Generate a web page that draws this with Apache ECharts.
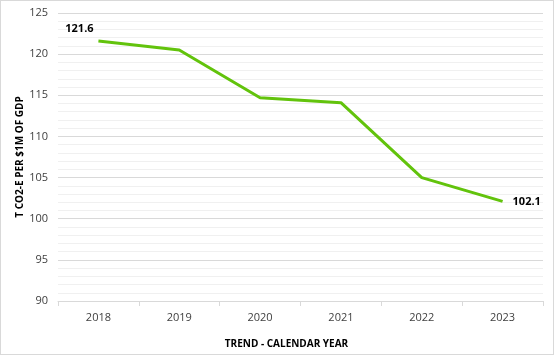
<!DOCTYPE html>
<html>
<head>
<meta charset="utf-8">
<script src="https://cdn.jsdelivr.net/npm/echarts@6/dist/echarts.min.js"></script>
<style>
html,body{margin:0;padding:0;background:#fff;}
#c{position:absolute;left:0;top:0;width:552px;height:353px;border:1px solid #d9d9d9;}
</style>
</head>
<body>
<div id="c"></div>
<script>
const categories = ['2018','2019','2020','2021','2022','2023'];
const values = [121.6, 120.5, 114.7, 114.1, 105.0, 102.1];
const yTicks = [90, 95, 100, 105, 110, 115, 120, 125];

const chart = echarts.init(document.getElementById('c'));
const last = values.length - 1;
chart.setOption({
  animation: false,
  grid: {left: 57, right: 10, top: 12, bottom: 51},
  xAxis: {
    type: 'category',
    data: categories,
    boundaryGap: true,
    name: 'TREND - CALENDAR YEAR',
    nameLocation: 'middle',
    nameGap: 38,
    nameTextStyle: {fontFamily: 'Open Sans', fontSize: 10, fontWeight: 'bold', color: '#000', padding: [0, 28, 0, 0]},
    axisLine: {lineStyle: {color: '#d9d9d9', width: 1}},
    axisTick: {show: true, length: 5, lineStyle: {color: '#d9d9d9'}},
    axisLabel: {fontFamily: 'Open Sans', fontSize: 11, color: '#404040', margin: 11},
    splitLine: {show: false}
  },
  yAxis: {
    type: 'value',
    min: yTicks[0],
    max: yTicks[yTicks.length - 1],
    interval: 5,
    name: 'T CO2-E PER $1M OF GDP',
    nameLocation: 'middle',
    nameGap: 33,
    nameMoveOverlap: false,
    nameTextStyle: {fontFamily: 'Open Sans', fontSize: 10, fontWeight: 'bold', color: '#000'},
    axisLine: {show: false},
    axisTick: {show: false},
    axisLabel: {fontFamily: 'Open Sans', fontSize: 11, color: '#404040', margin: 10},
    splitLine: {lineStyle: {color: '#d9d9d9', width: 1}},
    minorTick: {show: false, splitNumber: 5},
    minorSplitLine: {show: true, lineStyle: {color: '#f0f0f0', width: 1}}
  },
  series: [{
    type: 'line',
    data: values.map((v, i) => {
      if (i === 0) return {value: v, label: {show: true, position: 'top', offset: [-19, -2]}};
      if (i === last) return {value: v, label: {show: true, position: 'right', distance: 10}};
      return v;
    }),
    symbol: 'circle',
    symbolSize: 0,
    showSymbol: true,
    lineStyle: {color: '#62c30c', width: 3},
    itemStyle: {color: '#62c30c'},
    label: {show: false, fontFamily: 'Open Sans', fontSize: 11, fontWeight: 'bold', color: '#000'}
  }]
});
</script>
</body>
</html>
